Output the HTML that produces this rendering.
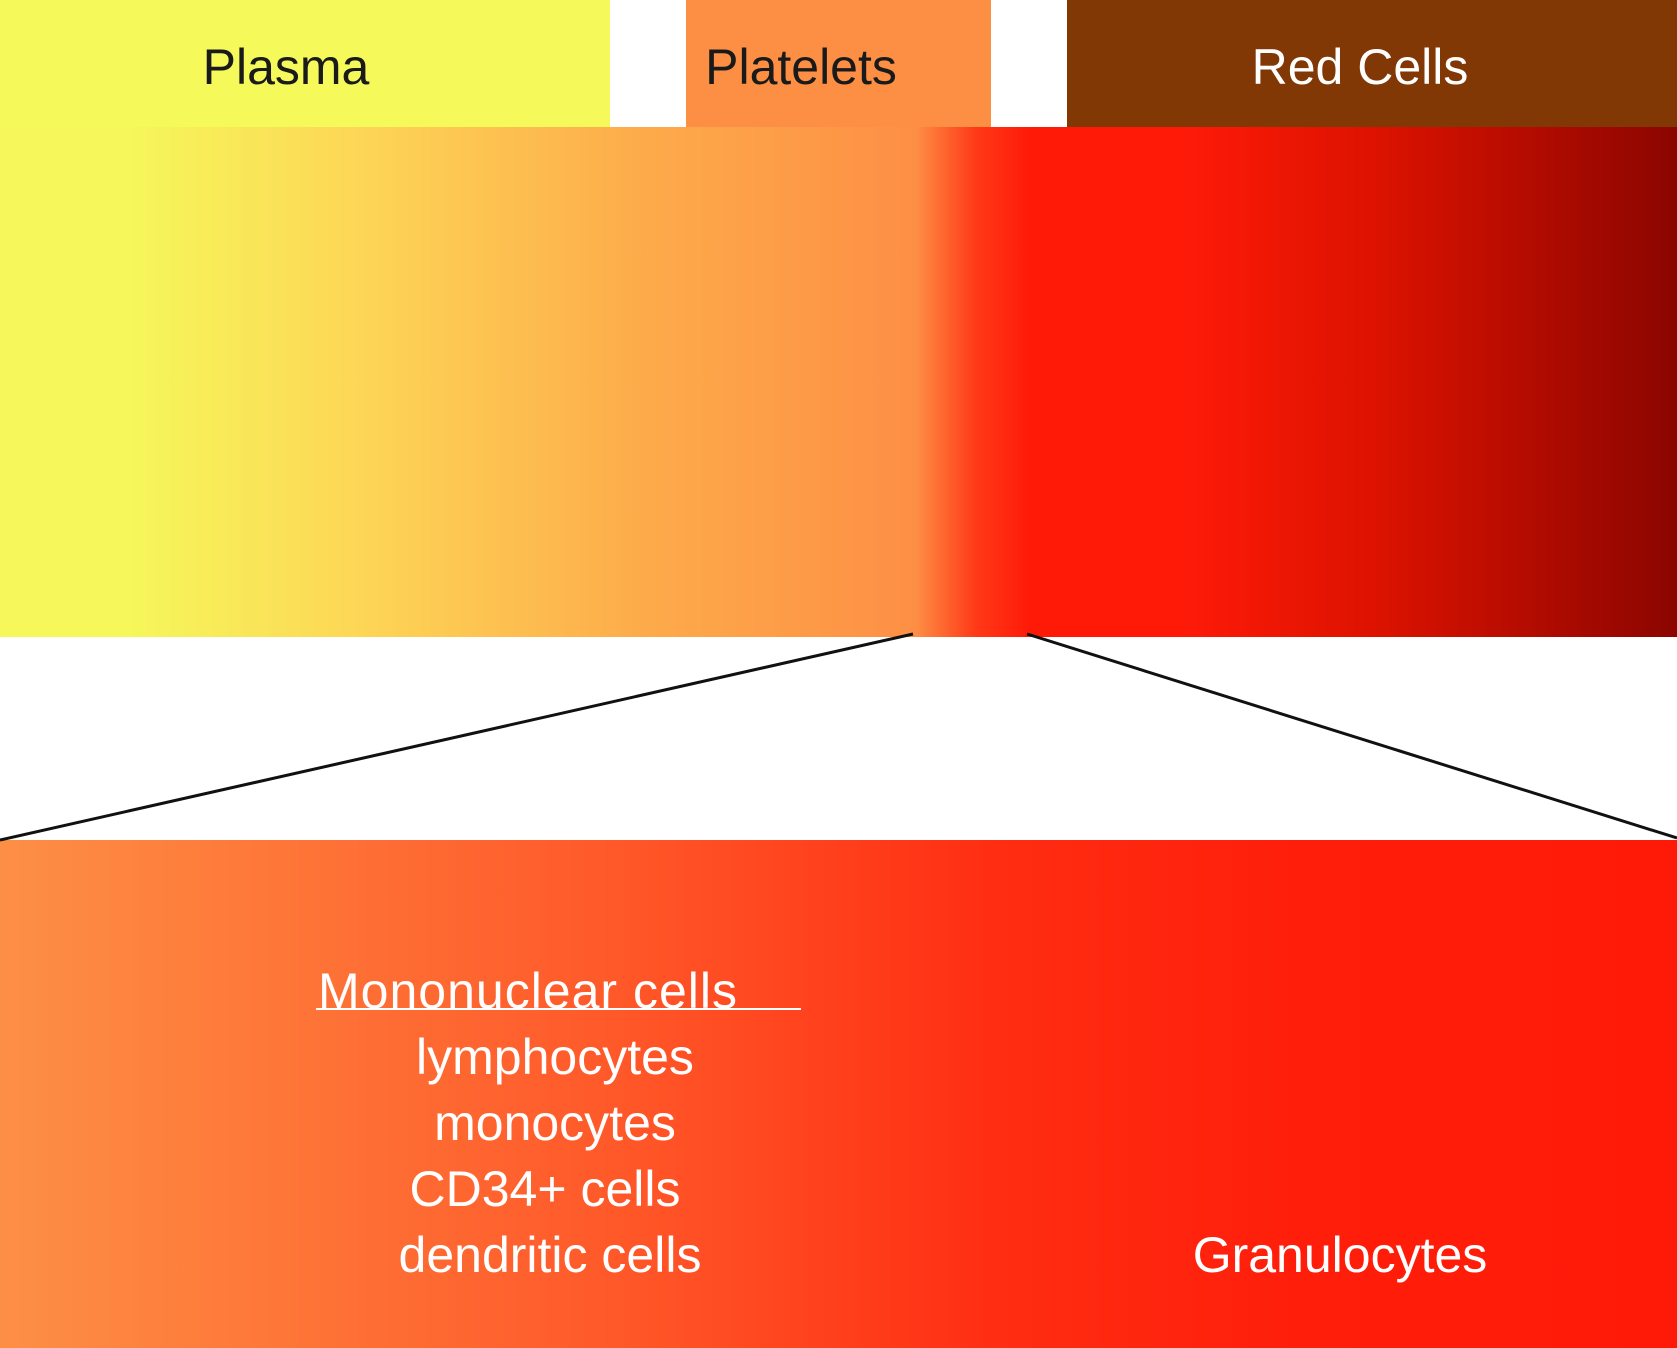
<!DOCTYPE html>
<html><head><style>
body{margin:0;width:1677px;height:1348px;position:relative;background:#fff;overflow:hidden;font-family:"Liberation Sans",sans-serif}
div{position:absolute}
.t{white-space:nowrap;font-size:50px;line-height:1}
</style></head><body>
<div style="left:0;top:0;width:610px;height:127px;background:#f5f95a"></div>
<div style="left:686px;top:0;width:305px;height:127px;background:#fd8f45"></div>
<div style="left:1067px;top:0;width:610px;height:127px;background:#823805"></div>
<div class="t" style="left:0;width:572px;top:42px;text-align:center;color:#1a1a1a">Plasma</div>
<div class="t" style="left:686px;width:230px;top:42px;text-align:center;color:#1a1a1a">Platelets</div>
<div class="t" style="left:1160px;width:400px;top:42px;text-align:center;color:#fff">Red Cells</div>
<div style="left:0;top:127px;width:1677px;height:510px;background:linear-gradient(to right,#f5f75a 0px,#f5f75a 130px,#fdd656 360px,#fdaa4a 650px,#fd8f45 915px,#ff3a18 975px,#ff1a08 1030px,#ff1a08 1180px,#dc1200 1380px,#8b0500 1677px)"></div>
<div style="left:0;top:840px;width:1677px;height:508px;background:linear-gradient(to right,#fd8f45 0px,#ff5a2a 600px,#ff2d12 1000px,#ff1e0a 1300px,#ff1a08 1677px)"></div>
<svg style="position:absolute;left:0;top:0" width="1677" height="1348"><g stroke="#111" stroke-width="3"><line x1="913" y1="634" x2="0" y2="840"/><line x1="1027" y1="634" x2="1677" y2="838"/></g></svg>
<div class="t" style="left:318px;top:966px;color:#fff;letter-spacing:1px">Mononuclear cells</div>
<div style="left:316px;top:1008px;width:485px;height:2px;background:#fff"></div>
<div class="t" style="left:300px;width:510px;top:1032px;text-align:center;color:#fff">lymphocytes</div>
<div class="t" style="left:300px;width:510px;top:1098px;text-align:center;color:#fff">monocytes</div>
<div class="t" style="left:290px;width:510px;top:1164px;text-align:center;color:#fff">CD34+ cells</div>
<div class="t" style="left:295px;width:510px;top:1230px;text-align:center;color:#fff">dendritic cells</div>
<div class="t" style="left:1140px;width:400px;top:1230px;text-align:center;color:#fff">Granulocytes</div>
</body></html>
